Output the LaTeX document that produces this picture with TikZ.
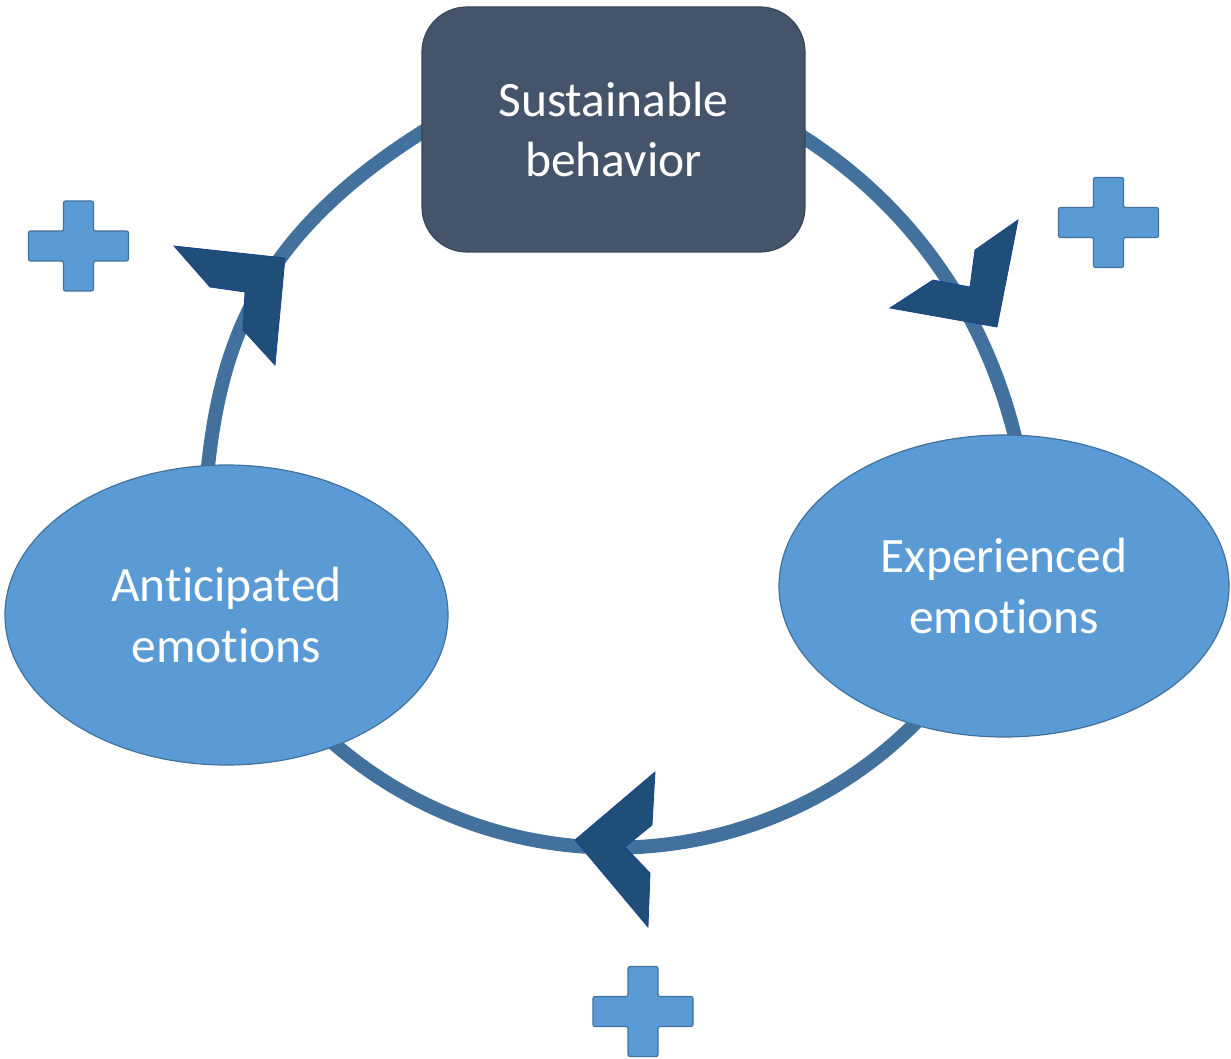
\documentclass[tikz,border=0pt]{standalone}
\usepackage{fontspec}
\setmainfont{Carlito}[Ligatures={NoCommon,NoContextual}]
\usetikzlibrary{shapes.geometric,backgrounds}
\definecolor{slatebox}{HTML}{44546A}
\definecolor{slateedge}{HTML}{38475A}
\definecolor{bluefill}{HTML}{5B9BD5}
\definecolor{blueedge}{HTML}{41719C}
\definecolor{ringblue}{HTML}{41719C}
\definecolor{headblue}{HTML}{1F4E79}
\tikzset{
  labeltext/.style={text=white, align=center, font=\fontsize{49.5pt}{60.4pt}\selectfont},
  behaviorbox/.style={labeltext, rectangle, rounded corners=45pt, fill=slatebox,
    draw=slateedge, line width=1.2pt, minimum width=383pt, minimum height=245pt, inner sep=0pt},
  emotionoval/.style={labeltext, ellipse, fill=bluefill, draw=blueedge, line width=1.2pt, inner sep=0pt},
  ring/.style={draw=ringblue, line width=14pt, shorten <=-12pt, shorten >=-12pt},
  chevron/.style={fill=headblue, draw=headblue!85!blue, line width=0.8pt, line join=miter},
  plussign/.style={fill=bluefill, draw=blueedge, line width=1.2pt, rounded corners=2pt},
  plusmark/.pic={
    \path[plussign] (-15,-45) -- (15,-45) -- (15,-15) -- (50,-15) -- (50,15) -- (15,15)
      -- (15,45) -- (-15,45) -- (-15,15) -- (-50,15) -- (-50,-15) -- (-15,-15) -- cycle;
  },
}
\begin{document}
\begin{tikzpicture}[x=1pt,y=-1pt]
\useasboundingbox (0,0) rectangle (1231,1059);

% the three states of the cycle
\node[behaviorbox] (beh) at (613.5,129.5) {Sustainable\\behavior};
\node[emotionoval, minimum width=443pt, minimum height=300pt] (ant) at (226.5,615) {Anticipated\\emotions};
\node[emotionoval, minimum width=450pt, minimum height=302pt] (exp) at (1004,586) {Experienced\\emotions};

% connecting arcs, passing under the shapes
\begin{scope}[on background layer]
  \draw[ring] ([yshift=-3pt]beh.west) .. controls (256,234) and (220,344) .. (ant.97.6);
  \draw[ring] ([yshift=-9pt]beh.east) .. controls (943,224) and (997,357) .. (exp.86);
  \draw[ring] (exp.-123) .. controls (763,883) and (499,892) .. (ant.-50);
\end{scope}

% direction chevrons along the cycle
\path[chevron] (174,246) -- (285,258) -- (275,365) -- (243,330) -- (245,292) -- (210,287) -- cycle;
\path[chevron] (1018,220) -- (997,327) -- (890,308) -- (933,280) -- (970,287) -- (975,250) -- cycle;
\path[chevron] (575,840) -- (655,772) -- (652,825) -- (625,847) -- (650,873) -- (648,927) -- cycle;

% positive signs
\pic (plusA) at (78.5,246) {plusmark};
\pic (plusB) at (1108.5,222.5) {plusmark};
\pic (plusC) at (643,1011.5) {plusmark};
\end{tikzpicture}
\end{document}
